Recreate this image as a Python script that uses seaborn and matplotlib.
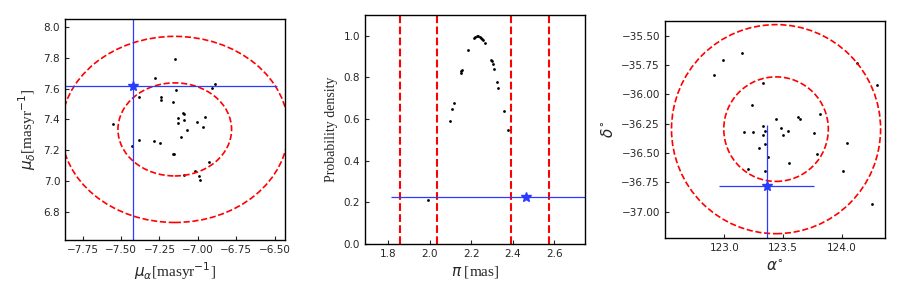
import numpy as np
import matplotlib
matplotlib.use("Agg")
import matplotlib.pyplot as plt
from matplotlib.patches import Ellipse
import seaborn as sns

# ---- panel 1: proper motions ----
pmra = [-7.148, -7.278, -7.383, -7.239, -7.239, -7.141, -7.161, -6.887, -6.906,
        -7.552, -7.096, -7.091, -7.128, -7.128, -7.089, -6.952, -7.004, -6.967,
        -7.069, -7.109, -7.383, -7.285, -7.246, -7.430, -7.161, -7.155, -6.926,
        -7.017, -7.089, -6.991, -6.987]
pmdec = [7.796, 7.671, 7.547, 7.547, 7.527, 7.593, 7.514, 7.632, 7.606,
         7.369, 7.442, 7.435, 7.409, 7.376, 7.396, 7.417, 7.382, 7.350,
         7.330, 7.284, 7.264, 7.258, 7.244, 7.227, 7.174, 7.174, 7.126,
         7.067, 7.041, 7.034, 7.008]
pm_center = [-7.150, 7.335]
pm_sigma = [0.37, 0.303]
pm_star = [-7.424, 7.620]
pm_star_err = [0.941, 1.1]

# ---- panel 2: parallax ----
plx = [1.993, 2.099, 2.109, 2.118, 2.150, 2.152, 2.157, 2.186, 2.214, 2.219,
       2.226, 2.234, 2.242, 2.248, 2.253, 2.258, 2.267, 2.296, 2.301, 2.306,
       2.311, 2.325, 2.330, 2.359, 2.378]
plx_density = [0.211, 0.590, 0.648, 0.677, 0.821, 0.829, 0.838, 0.931, 0.989, 0.995,
               0.999, 0.999, 0.997, 0.992, 0.986, 0.979, 0.965, 0.883, 0.877, 0.864,
               0.840, 0.778, 0.749, 0.638, 0.547]
plx_limits = [1.856, 2.034, 2.391, 2.573]
plx_star = [2.4615, 0.2256]
plx_star_err = 0.65

# ---- panel 3: sky positions ----
ra = [123.154, 122.991, 122.915, 124.128, 124.299, 123.325, 123.231, 123.436,
      123.624, 123.641, 123.812, 123.333, 123.479, 123.538, 123.171, 123.248,
      123.342, 123.325, 123.496, 123.761, 123.342, 123.299, 123.786, 123.368,
      124.043, 123.547, 123.197, 123.342, 124.009, 124.256]
dec = [-35.650, -35.709, -35.837, -35.735, -35.921, -35.904, -36.091, -36.210,
       -36.193, -36.210, -36.168, -36.270, -36.287, -36.312, -36.321, -36.321,
       -36.312, -36.346, -36.346, -36.329, -36.423, -36.457, -36.508, -36.533,
       -36.414, -36.584, -36.635, -36.652, -36.652, -36.932]
pos_center = [123.44, -36.297]
pos_radius = 0.445
pos_star = [123.361, -36.780]
pos_star_err = [0.406, 0.515]

sns.set_style("ticks")
plt.rcParams["xtick.direction"] = "in"
plt.rcParams["ytick.direction"] = "in"
plt.rcParams["xtick.labelsize"] = 7.5
plt.rcParams["ytick.labelsize"] = 7.5
plt.rcParams["xtick.major.size"] = 3
plt.rcParams["ytick.major.size"] = 3
plt.rcParams["axes.edgecolor"] = "black"
plt.rcParams["axes.linewidth"] = 1.0

serif = "Liberation Serif"
star_blue = "#2a3cff"

fig, axes = plt.subplots(1, 3, figsize=(9, 2.96), dpi=100)
plt.subplots_adjust(left=0.0722, right=0.983, bottom=0.176, top=0.949, wspace=0.364)

# proper motions
ax = axes[0]
sns.scatterplot(x=pmra, y=pmdec, ax=ax, color="k", s=4, linewidth=0)
for k in [1, 2]:
    ax.add_patch(Ellipse(pm_center, 2 * k * pm_sigma[0], 2 * k * pm_sigma[1],
                         fill=False, color="red", ls="--", lw=1.2))
ax.errorbar(pm_star[0], pm_star[1], xerr=pm_star_err[0], yerr=pm_star_err[1],
            fmt="*", color=star_blue, ms=7, lw=0.9)
ax.set_xlim(-7.865, -6.433)
ax.set_ylim(6.614, 8.055)
ax.set_xticks(np.arange(-7.75, -6.49, 0.25))
ax.set_yticks(np.arange(6.8, 8.01, 0.2))
ax.set_aspect("equal")
ax.set_xlabel(r"$\mu_{\alpha}$[masyr$^{-1}$]", fontfamily=serif, fontsize=11)
ax.set_ylabel(r"$\mu_{\delta}$[masyr$^{-1}$]", fontfamily=serif, fontsize=11)

# parallax
ax = axes[1]
sns.scatterplot(x=plx, y=plx_density, ax=ax, color="k", s=4, linewidth=0)
for v in plx_limits:
    ax.axvline(v, color="red", ls="--", lw=1.5)
ax.errorbar(plx_star[0], plx_star[1], xerr=plx_star_err,
            fmt="*", color=star_blue, ms=7, lw=0.9)
ax.set_xlim(1.688, 2.746)
ax.set_ylim(0, 1.1)
ax.set_xticks([1.8, 2.0, 2.2, 2.4, 2.6])
ax.set_yticks([0.0, 0.2, 0.4, 0.6, 0.8, 1.0])
ax.set_xlabel(r"$\pi$ [mas]", fontfamily=serif, fontsize=11)
ax.set_ylabel("Probability density", fontfamily=serif, fontsize=10)

# positions
ax = axes[2]
sns.scatterplot(x=ra, y=dec, ax=ax, color="k", s=4, linewidth=0)
for k in [1, 2]:
    ax.add_patch(Ellipse(pos_center, 2 * k * pos_radius, 2 * k * pos_radius,
                         fill=False, color="red", ls="--", lw=1.2))
ax.errorbar(pos_star[0], pos_star[1], xerr=pos_star_err[0], yerr=pos_star_err[1],
            fmt="*", color=star_blue, ms=7, lw=0.9)
ax.set_xlim(122.493, 124.365)
ax.set_ylim(-37.227, -35.373)
ax.set_xticks([123.0, 123.5, 124.0])
ax.set_yticks(np.arange(-37.0, -35.49, 0.25))
ax.set_aspect("equal")
ax.set_xlabel(r"$\alpha^{\circ}$", fontsize=11)
ax.set_ylabel(r"$\delta^{\circ}$", fontsize=11)

fig.savefig("out.png", dpi=100)
